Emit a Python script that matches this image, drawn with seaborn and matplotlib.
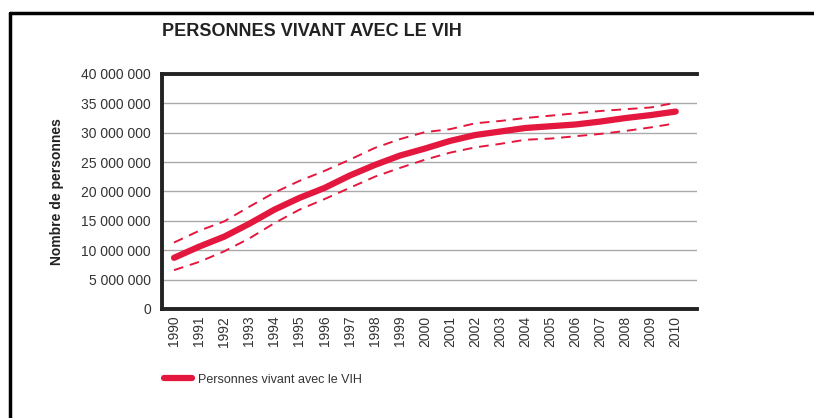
import numpy as np
import pandas as pd
import matplotlib
matplotlib.use("Agg")
import matplotlib.pyplot as plt
from matplotlib.lines import Line2D
from matplotlib.ticker import FuncFormatter
import seaborn as sns

years = list(range(1990, 2011))
central = [8.7, 10.6, 12.3, 14.5, 16.9, 18.9, 20.6, 22.7, 24.5, 26.1, 27.3,
           28.6, 29.6, 30.2, 30.8, 31.1, 31.4, 31.9, 32.5, 33.0, 33.6]
upper = [11.3, 13.3, 14.9, 17.4, 19.8, 21.8, 23.5, 25.4, 27.4, 28.9, 30.1,
         30.6, 31.6, 32.0, 32.5, 32.9, 33.3, 33.7, 34.0, 34.3, 35.1]
lower = [6.6, 8.0, 9.8, 12.0, 14.6, 16.9, 18.7, 20.6, 22.5, 24.0, 25.4,
         26.6, 27.5, 28.1, 28.8, 29.0, 29.4, 29.8, 30.3, 30.9, 31.6]
legend_label = "Personnes vivant avec le VIH"

df = pd.DataFrame({
    "annee": years,
    "central": np.array(central) * 1e6,
    "haut": np.array(upper) * 1e6,
    "bas": np.array(lower) * 1e6,
})

RED = "#e4173e"
sns.set_style("white")
plt.rcParams["font.family"] = ["Liberation Sans", "DejaVu Sans"]

fig = plt.figure(figsize=(8.14, 4.18), dpi=100)
ax = fig.add_axes([0.199, 0.261, 0.657, 0.562])

sns.lineplot(data=df, x="annee", y="haut", ax=ax, color=RED, lw=1.4,
             linestyle=(0, (5, 3.5)))
sns.lineplot(data=df, x="annee", y="bas", ax=ax, color=RED, lw=1.4,
             linestyle=(0, (5, 3.5)))
sns.lineplot(data=df, x="annee", y="central", ax=ax, color=RED, lw=4.5,
             solid_capstyle="round")

ax.set_xlim(1989.52, 2010.84)
ax.set_ylim(0, 40e6)
ax.set_yticks(np.arange(0, 40e6 + 1, 5e6))
ax.yaxis.set_major_formatter(FuncFormatter(lambda v, p: f"{int(v):,}".replace(",", " ")))
ax.set_xticks(years)
ax.set_xticklabels([str(y) for y in years], rotation=90)
ax.tick_params(axis="both", length=0, labelsize=10, colors="#333333")
ax.tick_params(axis="y", pad=8)
ax.tick_params(axis="x", pad=5)
ax.grid(axis="y", color="#aaaaaa", lw=1)
ax.set_axisbelow(True)
ax.set_xlabel("")
ax.set_ylabel("Nombre de personnes", fontsize=10, fontweight="bold",
              color="#222222", labelpad=12)

for side in ["left", "top", "bottom"]:
    ax.spines[side].set_visible(True)
    ax.spines[side].set_color("#222222")
    ax.spines[side].set_linewidth(2.8)
ax.spines["right"].set_visible(False)

fig.text(0.199, 0.925, "PERSONNES VIVANT AVEC LE VIH", fontsize=13,
         fontweight="bold", color="#222222", va="center")

handle = Line2D([0], [0], color=RED, lw=4.5)
fig.legend([handle], [legend_label], loc="center left",
           bbox_to_anchor=(0.188, 0.092), frameon=False, fontsize=9,
           handlelength=2.2, handletextpad=0.5, labelcolor="#333333")

# cadre noir (gauche et haut)
fig.add_artist(Line2D([0.0117, 0.0117], [0.0, 0.97], color="black", lw=2.5,
                      transform=fig.transFigure))
fig.add_artist(Line2D([0.0117, 1.0], [0.97, 0.97], color="black", lw=2.5,
                      transform=fig.transFigure))

fig.savefig("out.png", dpi=100)
